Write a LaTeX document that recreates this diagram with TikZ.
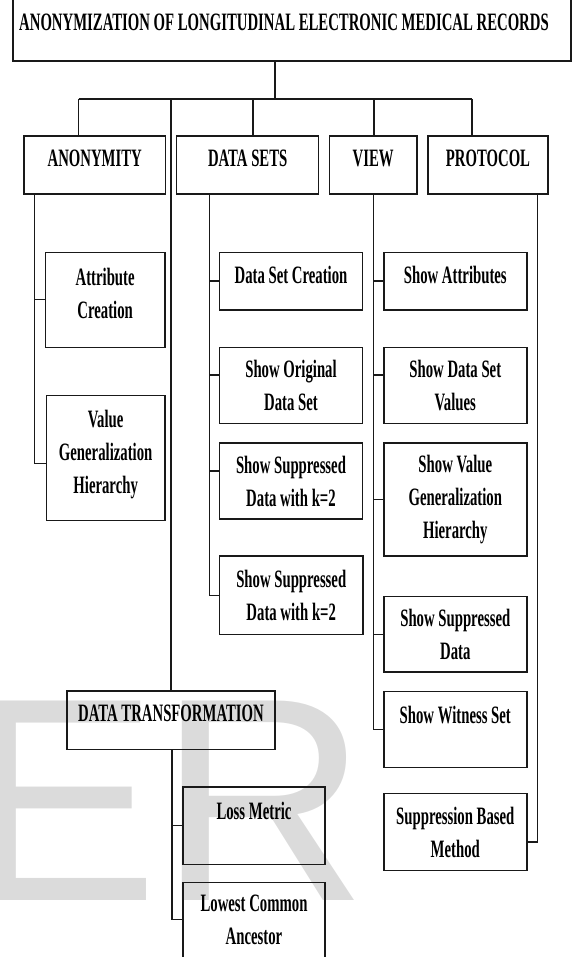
\documentclass[tikz,border=0pt]{standalone}
\usepackage{fontspec}
\newfontfamily\boxfont{Liberation Serif}[FakeStretch=0.59]
\newfontfamily\wmfont{Liberation Sans}
\definecolor{wmgray}{gray}{0.86}
\definecolor{ink}{gray}{0.1}
\begin{document}
\begin{tikzpicture}[x=1pt,y=-1pt,
  box/.style={draw=ink,line width=1.4pt,anchor=north west,align=center,
    inner sep=0pt,outer sep=0pt,font=\boxfont\bfseries\fontsize{25}{33}\selectfont},
  upbox/.style={box,text depth=13pt},
  topbox/.style={box,text depth=30pt},
  conn/.style={draw=ink,line width=1.3pt}]
\useasboundingbox (0,0) rectangle (573,957);
% watermark
\node[font=\wmfont\fontsize{290}{290}\selectfont,text=wmgray,anchor=base west,inner sep=0pt] (wm) at (-35,900) {ER};
% boxes
\node[box,minimum width=558pt,minimum height=66pt,text depth=11pt] (title) at (13,-5) {ANONYMIZATION OF LONGITUDINAL ELECTRONIC MEDICAL RECORDS\hspace*{16pt}};
\node[upbox,minimum width=141.5pt,minimum height=58pt] (anon) at (24,136) {ANONYMITY};
\node[upbox,minimum width=142pt,minimum height=58pt] (dsets) at (176.7,136) {DATA SETS};
\node[upbox,minimum width=87.7pt,minimum height=58pt] (view) at (329.3,136) {VIEW};
\node[upbox,minimum width=120pt,minimum height=58pt] (proto) at (428,136) {PROTOCOL};
% anonymity
\node[upbox,minimum width=119.7pt,minimum height=95pt] (attr) at (45.3,252.3) {Attribute\\Creation};
\node[upbox,minimum width=118.7pt,minimum height=125pt] (vgh) at (46.3,395.7) {Value\\Generalization\\Hierarchy};
% data sets
\node[upbox,minimum width=142.6pt,minimum height=57.7pt] (dscr) at (219.7,252.3) {Data Set Creation};
\node[box,minimum width=142.6pt,minimum height=75.6pt] (orig) at (219.7,347.7) {Show Original\\Data Set};
\node[box,minimum width=142.6pt,minimum height=76pt] (supa) at (219.7,443) {Show Suppressed\\Data with k=2};
\node[box,minimum width=143.5pt,minimum height=78.3pt] (supb) at (219.5,556) {Show Suppressed\\Data with k=2};
% view
\node[upbox,minimum width=143pt,minimum height=57.7pt] (sattr) at (383.8,252.3) {Show Attributes};
\node[box,minimum width=143pt,minimum height=75.6pt] (svals) at (383.8,347.7) {Show Data Set\\Values};
\node[box,minimum width=143pt,minimum height=113pt] (svgh) at (383.8,443) {Show Value\\Generalization\\Hierarchy};
\node[box,minimum width=143pt,minimum height=75.3pt] (ssup) at (383.8,596.7) {Show Suppressed\\Data};
\node[topbox,minimum width=143pt,minimum height=75.6pt] (wit) at (383.8,691.7) {Show Witness Set};
% protocol
\node[box,minimum width=143pt,minimum height=77.4pt] (sbm) at (383.8,793.3) {Suppression Based\\Method};
% data transformation
\node[upbox,minimum width=208pt,minimum height=58.3pt] (dt) at (67,691) {DATA TRANSFORMATION};
\node[topbox,minimum width=142pt,minimum height=77.3pt] (loss) at (183,787) {Loss Metric};
\node[box,minimum width=142pt,minimum height=75pt] (lca) at (183,882.3) {Lowest Common\\Ancestor};
% edges
\coordinate (j0) at (275,99);
\coordinate (j1) at (78.7,99);
\coordinate (j2) at (171,99);
\coordinate (j3) at (253,99);
\coordinate (j4) at (374,99);
\coordinate (j5) at (472,99);
\draw[conn] (j0) -- (j0 |- title.south);
\draw[conn] (j1) -- (j5);
\draw[conn] (j1) -- (j1 |- anon.north);
\draw[conn] (j2) -- (j2 |- dt.north);
\draw[conn] (j3) -- (j3 |- dsets.north);
\draw[conn] (j4) -- (j4 |- view.north);
\draw[conn] (j5) -- (j5 |- proto.north);
\coordinate (s1) at (34.3,194);
\draw[conn] (s1) |- (attr.west);
\draw[conn] (s1) |- ([yshift=-5pt]vgh.west);
\coordinate (s2) at (209.5,194);
\draw[conn] (s2) |- (dscr.west);
\draw[conn] (s2) |- ([yshift=10.5pt]orig.west);
\draw[conn] (s2) |- ([yshift=10pt]supa.west);
\draw[conn] (s2) |- (supb.west);
\coordinate (s3) at (373.7,194);
\draw[conn] (s3) |- (sattr.west);
\draw[conn] (s3) |- ([yshift=10.5pt]svals.west);
\draw[conn] (s3) |- (svgh.west);
\draw[conn] (s3) |- (ssup.west);
\draw[conn] (s3) |- (wit.west);
\coordinate (s4) at (537.6,194);
\draw[conn] (s4) |- ([yshift=-10pt]sbm.east);
\coordinate (s5) at (172,749.3);
\draw[conn] (s5) |- (loss.west);
\draw[conn] (s5) |- (lca.west);
\end{tikzpicture}
\end{document}
